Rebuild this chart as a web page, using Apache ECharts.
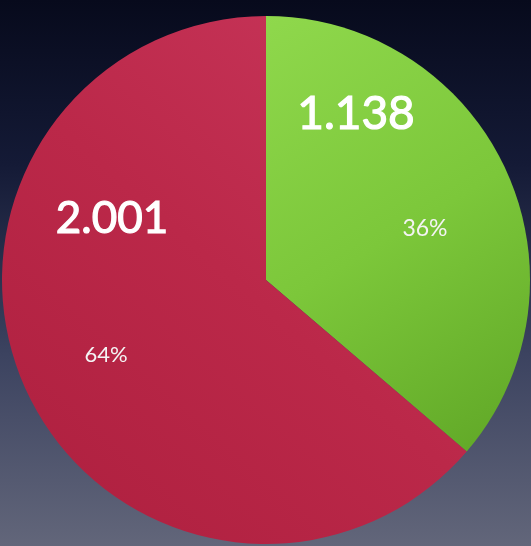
<!DOCTYPE html>
<html>
<head>
<meta charset="utf-8">
<script src="https://cdn.jsdelivr.net/npm/echarts@6/dist/echarts.min.js"></script>
<style>
html,body{margin:0;padding:0;width:531px;height:546px;overflow:hidden;background:#1a1f36;}
#chart{width:531px;height:546px;}
</style>
</head>
<body>
<div id="chart"></div>
<script>
// Data
var categories = ['Green', 'Red'];
var values = [1138, 2001];
var valueLabels = ['1.138', '2.001'];

var total = values.reduce(function(a,b){return a+b;}, 0);
var percents = values.map(function(v){ return Math.round(v / total * 100) + '%'; });

var sliceColors = [
  new echarts.graphic.LinearGradient(0, 0, 1, 1, [
    {offset: 0, color: '#8fd84c'},
    {offset: 0.5, color: '#7cc73a'},
    {offset: 1, color: '#5fa626'}
  ]),
  new echarts.graphic.LinearGradient(1, 0, 0, 1, [
    {offset: 0, color: '#c9375c'},
    {offset: 0.5, color: '#bb2849'},
    {offset: 1, color: '#ad1f3e'}
  ])
];

var chart = echarts.init(document.getElementById('chart'), null, {renderer: 'canvas'});

var option = {
  animation: false,
  backgroundColor: new echarts.graphic.LinearGradient(0, 0, 0, 1, [
    {offset: 0, color: '#070a1c'},
    {offset: 0.3, color: '#141a36'},
    {offset: 0.65, color: '#3c4360'},
    {offset: 1, color: '#62667a'}
  ]),
  series: [{
    type: 'pie',
    center: [266, 280],
    radius: [0, 264],
    startAngle: 90,
    clockwise: true,
    label: {show: false},
    labelLine: {show: false},
    emphasis: {disabled: true},
    data: categories.map(function(c, i){
      return {name: c, value: values[i], itemStyle: {color: sliceColors[i]}};
    })
  }],
  graphic: {
    elements: [
      {type: 'text', z: 100, x: 356, y: 114, style: {text: valueLabels[0], fill: '#ffffff', stroke: '#ffffff', lineWidth: 1.2, fontFamily: 'Lato', fontSize: 46, fontWeight: 'normal', align: 'center', verticalAlign: 'middle'}},
      {type: 'text', z: 100, x: 112, y: 219, style: {text: valueLabels[1], fill: '#ffffff', stroke: '#ffffff', lineWidth: 1.2, fontFamily: 'Lato', fontSize: 44, fontWeight: 'normal', align: 'center', verticalAlign: 'middle'}},
      {type: 'text', z: 100, x: 425, y: 229, style: {text: percents[0], fill: '#f4f4f4', fontFamily: 'Lato', fontSize: 23, align: 'center', verticalAlign: 'middle'}},
      {type: 'text', z: 100, x: 106, y: 355, style: {text: percents[1], fill: '#f4f4f4', fontFamily: 'Lato', fontSize: 22, align: 'center', verticalAlign: 'middle'}}
    ]
  }
};
chart.setOption(option);
</script>
</body>
</html>
